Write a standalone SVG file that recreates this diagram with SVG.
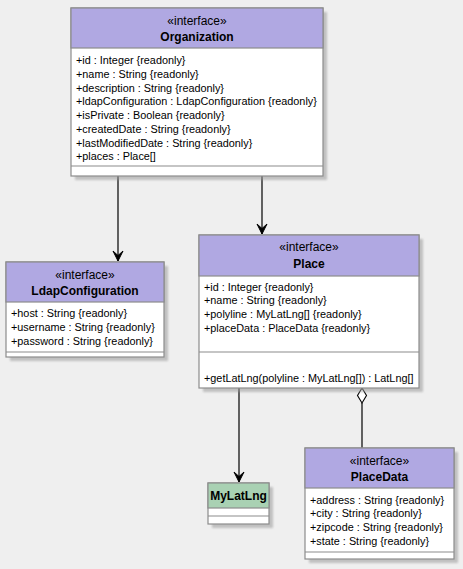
<svg xmlns="http://www.w3.org/2000/svg" width="463" height="569" viewBox="0 0 463 569">
<defs>
<style>
.box{fill:#ffffff;stroke:#8c8c8c;stroke-width:1.2}
.hdr{fill:#b0a8e2;stroke:#8c8c8c;stroke-width:1.2}
.hdrg{fill:#a9d1b3;stroke:#8c8c8c;stroke-width:1.2}
.sep{stroke:#8c8c8c;stroke-width:1.2}
.sh{fill:#9a9a9a;opacity:0.55}
.st{font-family:"Liberation Sans",Arial,sans-serif;font-size:12px;fill:#000;text-anchor:middle}
.nm{font-family:"Liberation Sans",Arial,sans-serif;font-size:12px;font-weight:bold;fill:#000;text-anchor:middle}
.at{font-family:"Liberation Sans",Arial,sans-serif;font-size:10.85px;fill:#000}
.ln{stroke:#000;stroke-width:1.2;fill:none}
</style>
<marker id="arr" markerWidth="12" markerHeight="12" refX="11" refY="6" orient="auto" markerUnits="userSpaceOnUse" viewBox="0 0 12 12">
<path d="M1,1 L11,6 L1,11 L5.5,6 Z" fill="#000" stroke="#000" stroke-width="1"/>
</marker>
<filter id="blur" x="-5%" y="-5%" width="115%" height="115%"><feGaussianBlur stdDeviation="1.2"/></filter>
</defs>
<rect x="0" y="0" width="463" height="569" fill="#efefef"/>

<g id="connectors">
<line class="ln" x1="118" y1="176" x2="118" y2="261" marker-end="url(#arr)"/>
<line class="ln" x1="262" y1="176" x2="262" y2="234" marker-end="url(#arr)"/>
<line class="ln" x1="239" y1="388" x2="239" y2="482" marker-end="url(#arr)"/>
<line class="ln" x1="362" y1="403" x2="362" y2="448"/>
<path d="M362,388 L366.5,395.5 L362,403 L357.5,395.5 Z" fill="#fff" stroke="#000" stroke-width="1.1"/>
</g>

<g id="Organization">
<rect class="sh" x="75" y="12" width="252" height="168" filter="url(#blur)"/>
<rect class="box" x="71" y="8" width="252" height="168"/>
<rect class="hdr" x="71" y="8" width="252" height="40"/>
<text class="st" x="197" y="25">«interface»</text>
<text class="nm" x="197" y="41">Organization</text>
<text class="at" x="76" y="64">+id : Integer {readonly}</text>
<text class="at" x="76" y="78">+name : String {readonly}</text>
<text class="at" x="76" y="92">+description : String {readonly}</text>
<text class="at" x="76" y="105">+ldapConfiguration : LdapConfiguration {readonly}</text>
<text class="at" x="76" y="119">+isPrivate : Boolean {readonly}</text>
<text class="at" x="76" y="133">+createdDate : String {readonly}</text>
<text class="at" x="76" y="147">+lastModifiedDate : String {readonly}</text>
<text class="at" x="76" y="160">+places : Place[]</text>
<line class="sep" x1="71" y1="166" x2="323" y2="166"/>
</g>

<g id="LdapConfiguration">
<rect class="sh" x="10" y="266" width="158" height="95" filter="url(#blur)"/>
<rect class="box" x="6" y="262" width="158" height="95"/>
<rect class="hdr" x="6" y="262" width="158" height="40"/>
<text class="st" x="85" y="279">«interface»</text>
<text class="nm" x="85" y="295">LdapConfiguration</text>
<text class="at" x="11" y="317">+host : String {readonly}</text>
<text class="at" x="11" y="331">+username : String {readonly}</text>
<text class="at" x="11" y="345">+password : String {readonly}</text>
<line class="sep" x1="6" y1="352" x2="164" y2="352"/>
</g>

<g id="Place">
<rect class="sh" x="203" y="239" width="220" height="153" filter="url(#blur)"/>
<rect class="box" x="199" y="235" width="220" height="153"/>
<rect class="hdr" x="199" y="235" width="220" height="41"/>
<text class="st" x="309" y="251">«interface»</text>
<text class="nm" x="309" y="268">Place</text>
<text class="at" x="204" y="291">+id : Integer {readonly}</text>
<text class="at" x="204" y="304">+name : String {readonly}</text>
<text class="at" x="204" y="318">+polyline : MyLatLng[] {readonly}</text>
<text class="at" x="204" y="332">+placeData : PlaceData {readonly}</text>
<line class="sep" x1="199" y1="352" x2="419" y2="352"/>
<text class="at" x="204" y="382">+getLatLng(polyline : MyLatLng[]) : LatLng[]</text>
</g>

<g id="MyLatLng">
<rect class="sh" x="212" y="487" width="61" height="41" filter="url(#blur)"/>
<rect class="box" x="208" y="483" width="61" height="41"/>
<rect class="hdrg" x="208" y="483" width="61" height="25"/>
<text class="nm" x="238.5" y="500">MyLatLng</text>
<line class="sep" x1="208" y1="516" x2="269" y2="516"/>
</g>

<g id="PlaceData">
<rect class="sh" x="309" y="452" width="149" height="111" filter="url(#blur)"/>
<rect class="box" x="305" y="448" width="149" height="111"/>
<rect class="hdr" x="305" y="448" width="149" height="40"/>
<text class="st" x="379.5" y="465">«interface»</text>
<text class="nm" x="379.5" y="481">PlaceData</text>
<text class="at" x="310" y="504">+address : String {readonly}</text>
<text class="at" x="310" y="517">+city : String {readonly}</text>
<text class="at" x="310" y="531">+zipcode : String {readonly}</text>
<text class="at" x="310" y="545">+state : String {readonly}</text>
<line class="sep" x1="305" y1="552" x2="454" y2="552"/>
</g>
</svg>
